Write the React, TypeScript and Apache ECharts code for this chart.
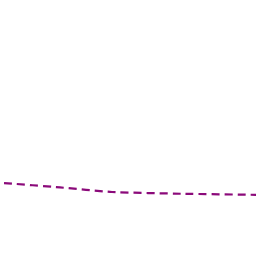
import React, { useEffect, useRef } from "react";
import * as echarts from "echarts";

const xValues = [0, 56, 108, 180, 252];
const values = [28.5, 26.8, 25.0, 24.3, 23.9];

export default function App() {
  const ref = useRef<HTMLDivElement>(null);
  useEffect(() => {
    if (!ref.current) return;
    const chart = echarts.init(ref.current, undefined, { renderer: "svg" });
    chart.setOption({
      animation: false,
      backgroundColor: "#ffffff",
      grid: { left: 4, right: 0, top: 0, bottom: 0 },
      xAxis: { type: "value", min: 0, max: 252, show: false },
      yAxis: { type: "value", min: 0, max: 100, show: false },
      series: [
        {
          type: "line",
          data: xValues.map((x, i) => [x, values[i]]),
          showSymbol: false,
          smooth: 0.15,
          lineStyle: { color: "#8b0a7a", width: 2.2, type: [8, 5] },
        },
      ],
    });
    return () => chart.dispose();
  }, []);
  return (
    <div
      ref={ref}
      style={{ position: "absolute", left: 0, top: 0, width: 256, height: 256 }}
    />
  );
}
